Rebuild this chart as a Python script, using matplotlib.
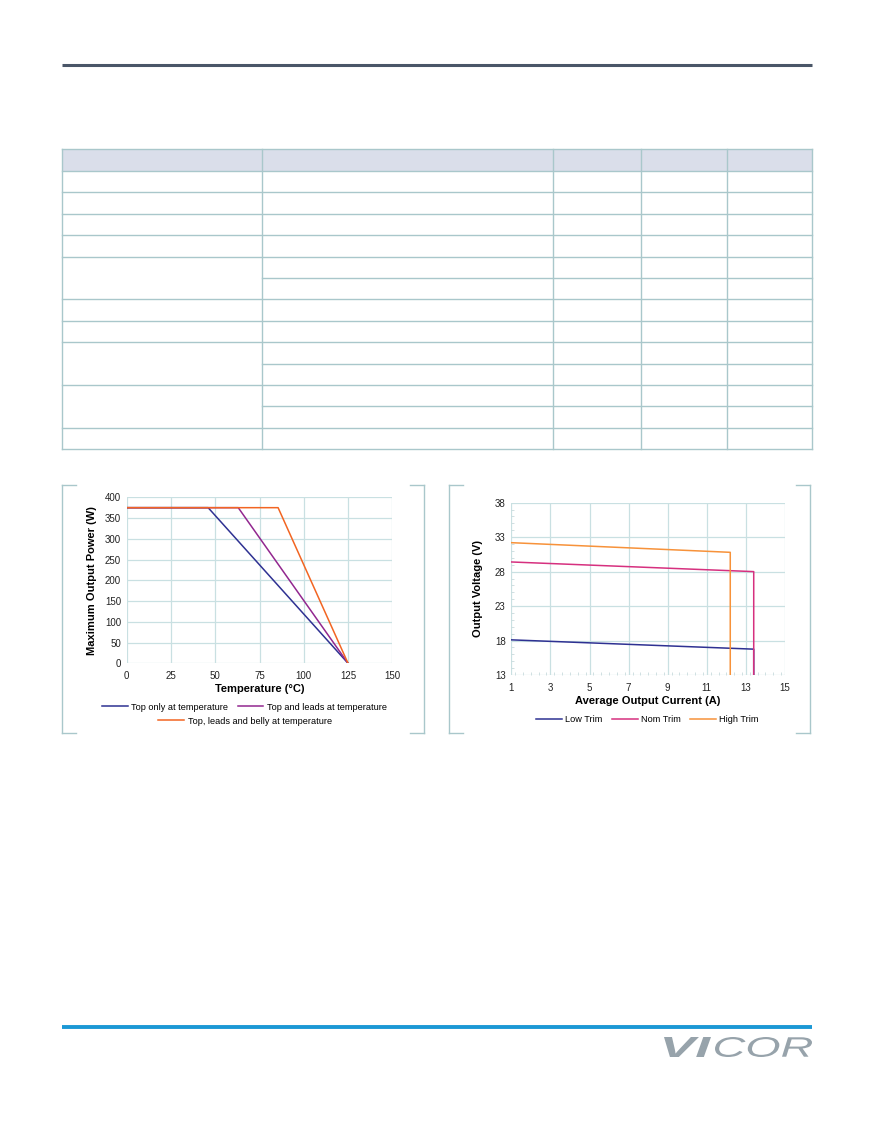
import numpy as np
import matplotlib
matplotlib.use("Agg")
import matplotlib.pyplot as plt
from matplotlib.lines import Line2D
from matplotlib.patches import Rectangle, PathPatch
from matplotlib.textpath import TextPath
from matplotlib.font_manager import FontProperties
from matplotlib.transforms import Affine2D
from matplotlib.ticker import MultipleLocator

plt.rcParams['font.family'] = ['Liberation Sans', 'DejaVu Sans']

# Derating curves: max output power vs temperature
derate_labels = ["Top only at temperature", "Top and leads at temperature",
                 "Top, leads and belly at temperature"]
derate_temp = [[0, 46, 125], [0, 63, 125], [0, 85.5, 125]]
derate_power = [[375, 375, 0], [375, 375, 0], [375, 375, 0]]
derate_colors = ["#2e3192", "#92278f", "#f26522"]

# Output voltage vs average output current
trim_labels = ["Low Trim", "Nom Trim", "High Trim"]
trim_current = [[1, 13.4, 13.4], [1, 13.4, 13.4], [1, 12.2, 12.2]]
trim_voltage = [[18.1, 16.75, 13], [29.4, 28.0, 13], [32.2, 30.8, 13]]
trim_colors = ["#2e3192", "#d6307f", "#f7923a"]

grid_c = "#c9e0e2"
frame_c = "#a9c7cb"
tick_fs = 7
label_fs = 8
legend_fs = 6.6

fig = plt.figure(figsize=(8.75, 11.25), dpi=100)

# page overlay in pixel coordinates
page = fig.add_axes([0, 0, 1, 1])
page.set_xlim(0, 875)
page.set_ylim(1125, 0)
page.axis("off")

# header rule
page.plot([62, 812], [64.5, 64.5], color="#4a5668", lw=2.2, solid_capstyle="butt")

# empty spec table
col_edges = [62, 262, 553, 641, 727, 812]
row_edges = [149, 171, 192, 214, 235, 257, 278, 299, 321, 342, 364, 385, 406, 428, 449]
merged_breaks = [278, 364, 406]
page.add_patch(Rectangle((62, 149), 750, 22, facecolor="#dadeea", edgecolor="none"))
for y in row_edges:
    x0 = 262 if y in merged_breaks else 62
    page.plot([x0, 812], [y, y], color=frame_c, lw=1.0)
for x in col_edges:
    page.plot([x, x], [149, 449], color=frame_c, lw=1.0)

# panel brackets
for bx0, bx1 in [(62, 424), (449, 810)]:
    for yy in [485, 733]:
        page.plot([bx0, bx0 + 14], [yy, yy], color=frame_c, lw=1.0)
        page.plot([bx1 - 14, bx1], [yy, yy], color=frame_c, lw=1.0)
    page.plot([bx0, bx0], [485, 733], color=frame_c, lw=1.0)
    page.plot([bx1, bx1], [485, 733], color=frame_c, lw=1.0)

# footer rule
page.plot([62, 812], [1027, 1027], color="#1b98d5", lw=2.8, solid_capstyle="butt")

# VICOR logo
def logo_part(text, weight, x0, x1, y_top, y_bot, color):
    fp = FontProperties(family="Liberation Sans", style="italic", weight=weight)
    tp = TextPath((0, 0), text, size=100, prop=fp)
    ext = tp.get_extents()
    sx = (x1 - x0) / ext.width
    sy = (y_bot - y_top) / ext.height
    tr = Affine2D().translate(-ext.x0, -ext.y0).scale(sx, -sy).translate(x0, y_bot)
    page.add_patch(PathPatch(tr.transform_path(tp), facecolor=color, edgecolor="none"))

logo_part("VI", "bold", 664, 711, 1037, 1057, "#97a3ab")
logo_part("COR", "normal", 715, 812, 1037, 1057, "#97a3ab")

# left chart
ax1 = fig.add_axes([126.7 / 875, 1 - 663.3 / 1125, 265.6 / 875, 166 / 1125])
for t, p, c in zip(derate_temp, derate_power, derate_colors):
    ax1.plot(t, p, color=c, lw=1.1)
ax1.set_xlim(0, 150)
ax1.set_ylim(0, 400)
ax1.set_xticks(np.arange(0, 151, 25))
ax1.set_yticks(np.arange(0, 401, 50))
ax1.grid(True, color=grid_c, lw=0.9)
ax1.set_axisbelow(True)
for s in ax1.spines.values():
    s.set_visible(False)
ax1.tick_params(length=0, labelsize=tick_fs, colors="#222222")
ax1.tick_params(axis="x", pad=5.5)
ax1.tick_params(axis="y", pad=4)
ax1.set_xlabel("Temperature (°C)", fontsize=label_fs, fontweight="bold")
ax1.set_ylabel("Maximum Output Power (W)", fontsize=label_fs, fontweight="bold")
ax1.xaxis.set_label_coords(0.5, -0.125)
ax1.yaxis.set_label_coords(-0.113, 0.5)

h1 = [Line2D([], [], color=c, lw=1.1) for c in derate_colors]
fig.legend(h1[:2], derate_labels[:2], loc="center", ncol=2,
           bbox_to_anchor=(244.5 / 875, 1 - 707 / 1125), frameon=False,
           fontsize=legend_fs, handlelength=2.8, handletextpad=0.38,
           columnspacing=1.0, borderpad=0)
fig.legend(h1[2:], derate_labels[2:], loc="center", ncol=1,
           bbox_to_anchor=(245 / 875, 1 - 721 / 1125), frameon=False,
           fontsize=legend_fs, handlelength=2.8, handletextpad=0.38, borderpad=0)

# right chart
ax2 = fig.add_axes([511.3 / 875, 1 - 675 / 1125, 273.7 / 875, 172.3 / 1125])
for i, v, c in zip(trim_current, trim_voltage, trim_colors):
    ax2.plot(i, v, color=c, lw=1.1)
ax2.set_xlim(1, 15)
ax2.set_ylim(13, 38)
ax2.set_xticks(np.arange(1, 16, 2))
ax2.set_yticks(np.arange(13, 39, 5))
ax2.xaxis.set_minor_locator(MultipleLocator(0.4))
ax2.yaxis.set_minor_locator(MultipleLocator(1))
ax2.grid(True, which="major", color=grid_c, lw=0.9)
ax2.set_axisbelow(True)
for s in ax2.spines.values():
    s.set_visible(False)
ax2.tick_params(which="major", length=0, labelsize=tick_fs, colors="#222222")
ax2.tick_params(which="minor", direction="in", length=2, width=0.6, color="#c9dadd")
ax2.tick_params(axis="x", pad=5.5)
ax2.tick_params(axis="y", pad=4)
ax2.set_xlabel("Average Output Current (A)", fontsize=label_fs, fontweight="bold")
ax2.set_ylabel("Output Voltage (V)", fontsize=label_fs, fontweight="bold")
ax2.xaxis.set_label_coords(0.5, -0.12)
ax2.yaxis.set_label_coords(-0.102, 0.5)

h2 = [Line2D([], [], color=c, lw=1.1) for c in trim_colors]
fig.legend(h2, trim_labels, loc="center", ncol=3,
           bbox_to_anchor=(647.5 / 875, 1 - 720 / 1125), frameon=False,
           fontsize=legend_fs, handlelength=2.8, handletextpad=0.38,
           columnspacing=1.0, borderpad=0)

fig.savefig("out.png", dpi=100)
